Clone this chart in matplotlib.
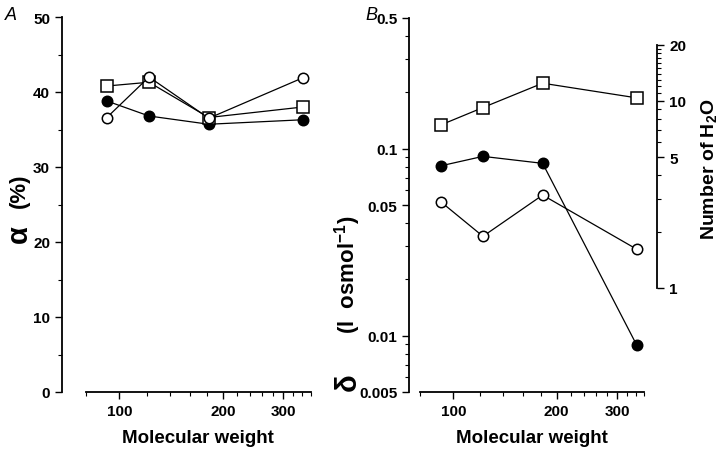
import matplotlib
matplotlib.use("Agg")
import matplotlib.pyplot as plt
from matplotlib.ticker import FixedLocator, NullFormatter, LogLocator

plt.rcParams["font.family"] = ["Liberation Sans", "DejaVu Sans"]
plt.rcParams["font.weight"] = "bold"
plt.rcParams["mathtext.fontset"] = "custom"
plt.rcParams["mathtext.rm"] = "Liberation Sans:bold"
plt.rcParams["mathtext.bf"] = "Liberation Sans:bold"

# 数据（分子量与三组测量）
mol_weight = [92, 122, 182, 342]

alpha_open = [36.6, 42.0, 36.5, 41.9]
alpha_square = [40.8, 41.3, 36.6, 38.0]
alpha_filled = [38.8, 36.8, 35.7, 36.3]

delta_square = [0.134, 0.166, 0.224, 0.187]
delta_filled = [0.081, 0.091, 0.0835, 0.0089]
delta_open = [0.052, 0.034, 0.0565, 0.029]

WATER_MOLARITY = 55.5  # mol/l, N = delta * 55.5

x_major = [100, 200, 300]
x_minor = [80, 120, 140, 160, 180, 220, 240, 260, 280, 320, 340, 360]

DPI = 100
PX = 72 / DPI  # 像素 -> 点


def _style_xaxis(ax):
    ax.set_xscale("log")
    ax.set_xlim(80, 360)
    ax.xaxis.set_major_locator(FixedLocator(x_major))
    ax.xaxis.set_minor_locator(FixedLocator(x_minor))
    ax.xaxis.set_minor_formatter(NullFormatter())
    ax.set_xticklabels([str(v) for v in x_major])
    ax.set_xlabel("Molecular weight", fontsize=13.5, fontweight="bold",
                  labelpad=8)
    ax.spines["top"].set_visible(False)
    ax.spines["right"].set_visible(False)
    ax.tick_params(which="major", length=5 * PX * 1.4, width=1, labelsize=11)
    ax.tick_params(which="minor", length=3 * PX * 1.4, width=0.8)
    for sp in ("left", "bottom"):
        ax.spines[sp].set_linewidth(1.3)


def _plot_series(ax, ys_open, ys_square, ys_filled):
    kw = dict(color="black", linewidth=0.9, markeredgewidth=1.1,
              markeredgecolor="black")
    ax.plot(mol_weight, ys_filled, marker="o", markersize=7.5,
            markerfacecolor="black", **kw)
    ax.plot(mol_weight, ys_square, marker="s", markersize=8,
            markerfacecolor="white", **kw)
    ax.plot(mol_weight, ys_open, marker="o", markersize=7.5,
            markerfacecolor="white", **kw)


fig = plt.figure(figsize=(7.2, 4.56), dpi=DPI)

# ---- 面板 A ----
axA = fig.add_axes([86 / 720, 63 / 456, 224.6 / 720, 375 / 456])
_plot_series(axA, alpha_open, alpha_square, alpha_filled)
_style_xaxis(axA)
axA.set_ylim(0, 50)
axA.set_yticks([0, 10, 20, 30, 40, 50])
axA.yaxis.set_minor_locator(FixedLocator([5, 15, 25, 35, 45]))
axA.spines["left"].set_position(("outward", 24 * PX))

fig.text(19 / 720, 1 - 234 / 456, "α", fontsize=21, rotation=90,
         ha="center", va="center", fontweight="bold")
fig.text(19 / 720, 1 - 191 / 456, "(%)", fontsize=16, rotation=90,
         ha="center", va="center", fontweight="bold")

# ---- 面板 B ----
axB = fig.add_axes([420 / 720, 63 / 456, 224.4 / 720, 374 / 456])
_plot_series(axB, delta_open, delta_square, delta_filled)
_style_xaxis(axB)
axB.set_yscale("log")
axB.set_ylim(0.005, 0.5)
axB.yaxis.set_major_locator(FixedLocator([0.005, 0.01, 0.05, 0.1, 0.5]))
axB.set_yticklabels(["0.005", "0.01", "0.05", "0.1", "0.5"])
axB.yaxis.set_minor_locator(LogLocator(base=10, subs=range(2, 10)))
axB.yaxis.set_minor_formatter(NullFormatter())
axB.spines["left"].set_position(("outward", 11 * PX))

fig.text(348 / 720, 1 - 382 / 456, "δ", fontsize=21, rotation=90,
         ha="center", va="center", fontweight="bold")
fig.text(348 / 720, 1 - 275 / 456, r"(l  osmol$^{-1}$)", fontsize=16,
         rotation=90, ha="center", va="center", fontweight="bold")

# 右轴：水分子数
axN = axB.twinx()
axN.set_yscale("log")
axN.set_ylim(0.005 * WATER_MOLARITY, 0.5 * WATER_MOLARITY)
axN.yaxis.set_major_locator(FixedLocator([1, 5, 10, 20]))
axN.set_yticklabels(["1", "5", "10", "20"])
axN.yaxis.set_minor_locator(FixedLocator([2, 3, 4, 6, 7, 8, 9] + list(range(11, 20))))
axN.yaxis.set_minor_formatter(NullFormatter())
for sp in ("top", "left", "bottom"):
    axN.spines[sp].set_visible(False)
axN.spines["right"].set_bounds(1, 20)
axN.spines["right"].set_position(("outward", 13 * PX))
axN.spines["right"].set_linewidth(1.3)
axN.tick_params(which="major", length=5 * PX * 1.4, width=1, labelsize=11)
axN.tick_params(which="minor", length=3 * PX * 1.4, width=0.8)
axN.set_ylabel(r"Number of H$_2$O", fontsize=14, fontweight="bold",
               labelpad=2)
# 标签中心约在 (700, 169) 像素
axN.yaxis.set_label_coords((700 - 420) / 224.4, (393 - 169) / 374)

# 面板字母
fig.text(11 / 720, 1 - 15 / 456, "A", fontsize=13, style="italic",
         fontweight="normal", ha="center", va="center")
fig.text(371 / 720, 1 - 15 / 456, "B", fontsize=13, style="italic",
         fontweight="normal", ha="center", va="center")

fig.savefig("out.png", dpi=DPI)
